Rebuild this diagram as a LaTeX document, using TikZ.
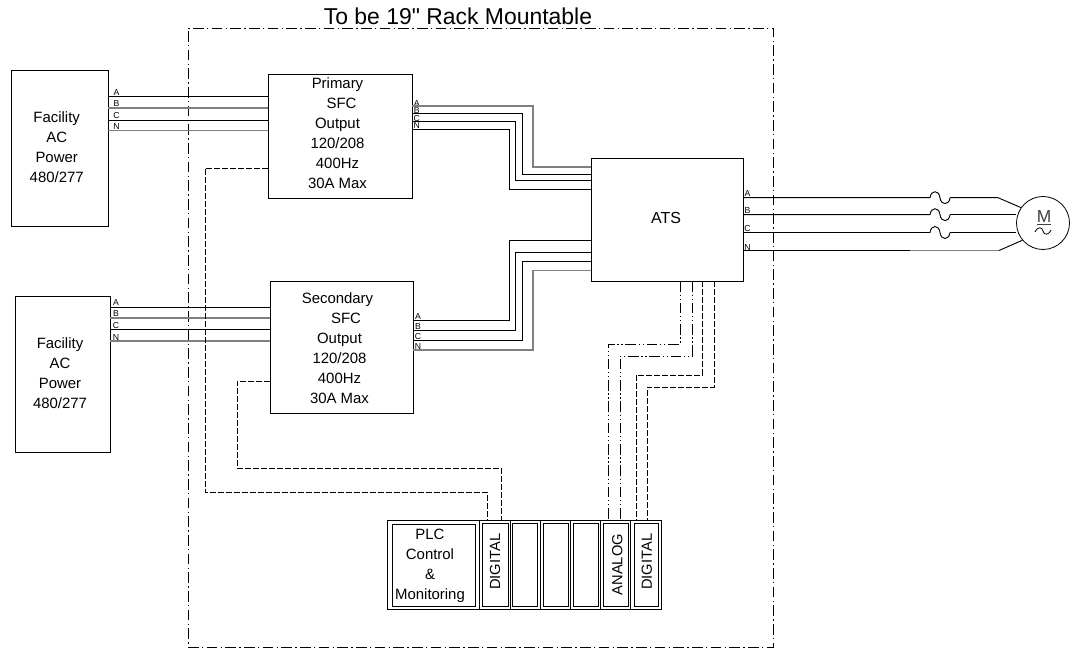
\documentclass[tikz,border=0pt]{standalone}
\usepackage{fontspec}
\setmainfont{Liberation Sans}
\newfontfamily\titlefont{Liberation Sans}
\usetikzlibrary{positioning, calc}

\begin{document}
\begin{tikzpicture}[
        x=0.75pt, y=-0.75pt,
        box/.style={draw, rectangle, inner sep=0pt, line width=0.6pt},
        txt/.style={inner sep=0pt, align=center, font=\fontsize{11.2}{15}\selectfont},
        vtxt/.style={rotate=90, inner sep=0pt, font=\fontsize{11}{13}\selectfont},
        slot/.style={draw, rectangle, inner sep=0pt, line width=0.45pt, minimum height=62.5pt},
        tag/.style={inner sep=0pt, font=\fontsize{6.5}{6.5}\selectfont},
        wire/.style={line width=0.7pt},
        greywire/.style={line width=0.8pt, black!50},
        frameline/.style={line width=0.6pt, dash pattern=on 8pt off 2.5pt on 1pt off 2.5pt},
        dashdot/.style={line width=0.6pt, dash pattern=on 8pt off 2pt on 1pt off 2pt on 1pt off 2pt},
        dashline/.style={line width=0.6pt, dash pattern=on 4.5pt off 1.5pt}
    ]
        \useasboundingbox (0,0) rectangle (1072,648);

        % Frame
        \node[inner sep=0pt, font=\titlefont\fontsize{17.2}{19}\selectfont] (title) at (458,16) {To be 19" Rack Mountable};
        \node[draw, rectangle, frameline, minimum width=438.75pt, minimum height=464.25pt] (frame) at (480.5,337.5) {};

        % Nodes
        \node[box, minimum width=72.75pt, minimum height=117pt] (fac1) at (59.5,148) {};
        \node[box, minimum width=71.25pt, minimum height=117pt] (fac2) at (62.5,374) {};
        \node[box, minimum width=108pt, minimum height=93pt] (pri) at (340,136) {};
        \node[box, minimum width=107.25pt, minimum height=99pt] (sec) at (341.5,347) {};
        \node[box, minimum width=114pt, minimum height=92.25pt] (ats) at (667,219.5) {};
        \node[txt] (fac1txt) at (56.7,147.5) {Facility\\AC\\Power\\480/277};
        \node[txt] (fac2txt) at (60,373) {Facility\\AC\\Power\\480/277};
        \node[txt] (pritxt) at (337.5,133.5) {Primary\\\hspace*{6pt}SFC\\Output\hspace*{3.75pt}\\120/208\\400Hz\\30A Max};
        \node[txt] (sectxt) at (339.5,348.5) {Secondary\hspace*{3pt}\\\hspace*{9.75pt}SFC\\Output\\120/208\\400Hz\\30A Max};
        \node[txt, font=\fontsize{12}{15}\selectfont] (atstxt) at (666,218) {ATS};

        % Phase tags
        \foreach \name/\lbl/\ya/\yb in {a/A/92.7/302.3,b/B/103.5/314,c/C/115.3/325.7,n/N/127/337.3}{
            \node[tag] (f\name) at (116.5,\ya) {\lbl};
            \node[tag] (g\name) at (116,\yb) {\lbl};
        }
        \foreach \name/\lbl/\ya/\yb in {a/A/104/316.7,b/B/111/326.7,c/C/118.5/336.7,n/N/126/346.7}{
            \node[tag] (p\name) at (416.7,\ya) {\lbl};
            \node[tag] (s\name) at (418,\yb) {\lbl};
        }
        \foreach \name/\lbl/\ya in {a/A/193.3,b/B/211,c/C/228.7,n/N/247.3}{
            \node[tag] (o\name) at (747.5,\ya) {\lbl};
        }

        % Inputs
        \foreach \ya/\yb/\sty in {96/307/wire,108/318/greywire,120.5/329.5/wire,130.5/341/greywire}{
            \coordinate (fs) at (fac1.east |- 0,\ya);
            \coordinate (fe) at (pri.west |- 0,\ya);
            \draw[\sty] (fs) -- (fe);
            \coordinate (gs) at (fac2.east |- 0,\yb);
            \coordinate (ge) at (sec.west |- 0,\yb);
            \draw[\sty] (gs) -- (ge);
        }

        % SFC to ATS
        \foreach \ya/\xa/\yb/\sty in {106/533/167/greywire,113.5/522/174/wire,121.5/515/180/wire,129/509/189/wire}{
            \coordinate (ps) at (pri.east |- 0,\ya);
            \coordinate (pe) at (ats.west |- 0,\yb);
            \draw[\sty] (ps) -| (\xa,\yb) -- (pe);
        }
        \foreach \ya/\xa/\yb/\sty in {320/509/240/wire,330/515/252/wire,340/522.5/261/wire,350/533/270.5/greywire}{
            \coordinate (ss) at (sec.east |- 0,\ya);
            \coordinate (se) at (ats.west |- 0,\yb);
            \draw[\sty] (ss) -| (\xa,\yb) -- (se);
        }

        % Motor
        \node[draw, circle, line width=0.6pt, minimum size=39.75pt, inner sep=0pt] (mot) at (1043,223) {};
        \node[inner sep=0pt, font=\fontsize{13}{13}\selectfont, color=black!75] (motm) at (1044,218) {\underline{M}};
        \draw[line width=0.6pt] (1035,232) .. controls (1038,226) and (1042,227) .. (1043,231) .. controls (1044,235) and (1048,236) .. (1051,230);

        % Outputs with fuses
        \foreach \yy in {197.7,214.7,232.5}{
            \coordinate (os) at (ats.east |- 0,\yy);
            \draw[wire] (os) -- (930,\yy) .. controls (931,\yy-8) and (939,\yy-8) .. (940,\yy) .. controls (941,\yy+8) and (949,\yy+8) .. (950,\yy);
        }
        \coordinate (oa) at (ats.east |- 0,250.5);
        \draw[wire] (oa) -- (910,250.5);
        \draw[greywire] (910,250.5) -- (999,250.5);
        \draw[wire] (999,250.5) -- (mot.220);
        \draw[wire] (950,197.7) -- (998,197.7) -- (mot.145);
        \coordinate (mb) at (mot.west |- 0,214.7);
        \coordinate (mc) at (mot.west |- 0,232.5);
        \draw[wire] (950,214.7) -- (mb);
        \draw[wire] (950,232.5) -- (mc);

        % PLC rack
        \node[box, minimum width=205.3pt, minimum height=66.5pt] (rack) at (524.2,565) {};
        \node[slot, minimum width=62.5pt, minimum height=61.5pt] (plc) at (434,565) {};
        \node[txt] (plctxt) at (430,566) {PLC\\Control\\\&\\Monitoring};
        \node[slot, minimum width=19.5pt] (dig1) at (495.3,565) {};
        \node[vtxt] (dig1t) at (495,561.7) {DIGITAL};
        \node[slot, minimum width=18.5pt] (sl1) at (525,565) {};
        \node[slot, minimum width=18.75pt] (sl2) at (555.8,565) {};
        \node[slot, minimum width=19pt] (sl3) at (585.7,565) {};
        \node[slot, minimum width=18.5pt] (ana) at (616,565) {};
        \node[vtxt] (anat) at (617.3,564.7) {ANALOG};
        \node[slot, minimum width=18.5pt] (dig2) at (646.3,565) {};
        \node[vtxt] (dig2t) at (646.7,561.7) {DIGITAL};
        \foreach \xx/\lw in {479.3/0.6pt,510.3/0.6pt,540.3/0.6pt,570.7/0.6pt,600.7/0.6pt,630.7/1.1pt}{
            \draw[line width=\lw] (rack.north -| \xx,0) -- (rack.south -| \xx,0);
        }

        % Control lines
        \coordinate (ca) at (ats.south -| 680,0);
        \coordinate (cb) at (ats.south -| 692,0);
        \coordinate (cc) at (ats.south -| 702,0);
        \coordinate (cd) at (ats.south -| 714,0);
        \coordinate (ra) at (rack.north -| 608,0);
        \coordinate (rb) at (rack.north -| 620,0);
        \coordinate (rc) at (rack.north -| 636,0);
        \coordinate (rd) at (rack.north -| 647,0);
        \draw[dashdot] (ca) -- (680,344) -| (ra);
        \draw[dashdot] (cb) -- (692,356) -| (rb);
        \draw[dashline] (cc) -- (702,375) -| (rc);
        \draw[dashline] (cd) -- (714,387) -| (rd);
        \coordinate (re) at (rack.north -| 487,0);
        \coordinate (rf) at (rack.north -| 501,0);
        \coordinate (pd) at (pri.west |- 0,168);
        \coordinate (sd) at (sec.west |- 0,381);
        \draw[dashline] (pd) -| (205,492.5) -| (re);
        \draw[dashline] (sd) -| (237,468) -| (rf);
    \end{tikzpicture}
\end{document}
